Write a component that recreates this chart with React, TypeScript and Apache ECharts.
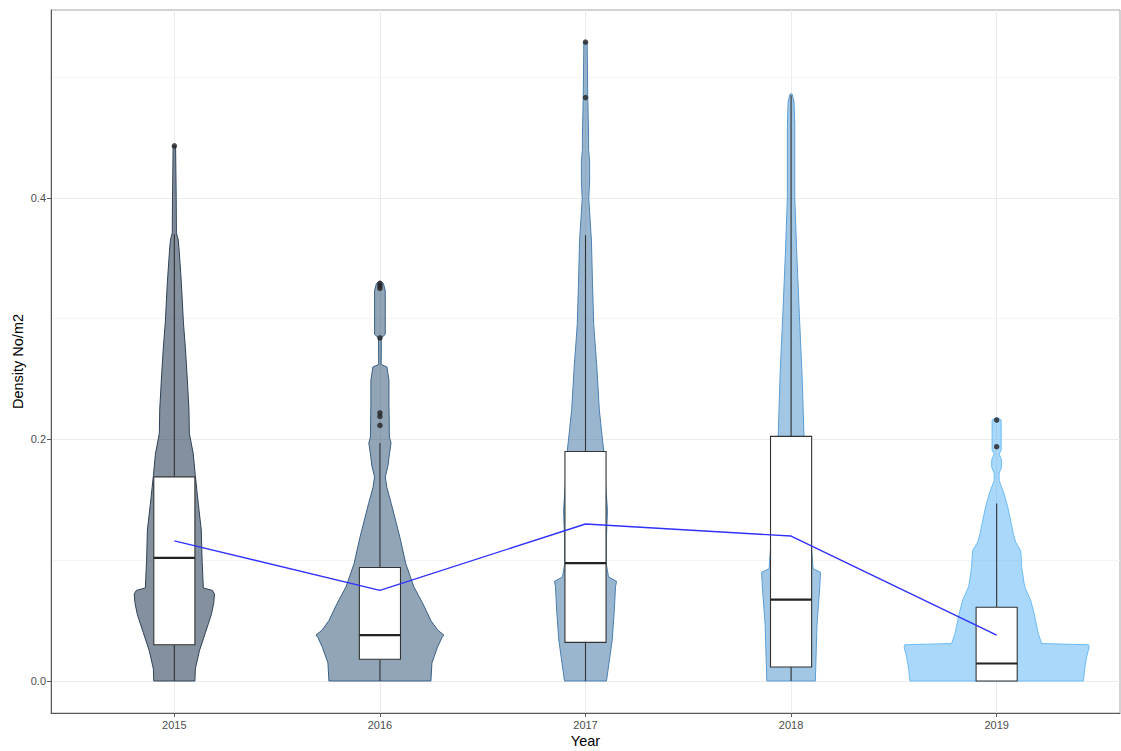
import React, { useEffect, useRef } from "react";
import * as echarts from "echarts";

// ---- data ----
const years = ["2015", "2016", "2017", "2018", "2019"];
const xPositions = [1, 2, 3, 4, 5];

// violin profiles: [value, half-width in x-axis units]
const violin2015 = [
  [0, 0.1], [0.01, 0.102], [0.025, 0.122], [0.04, 0.151], [0.055, 0.18], [0.065, 0.192],
  [0.072, 0.195], [0.075, 0.185], [0.077, 0.141], [0.1, 0.135], [0.125, 0.131], [0.146, 0.117],
  [0.17, 0.102], [0.188, 0.092], [0.205, 0.073], [0.225, 0.071], [0.25, 0.063], [0.275, 0.054],
  [0.297, 0.044], [0.33, 0.034], [0.355, 0.024], [0.365, 0.019], [0.371, 0.01], [0.4, 0.009],
  [0.443, 0.006],
];
const violin2016 = [
  [0, 0.248], [0.015, 0.253], [0.028, 0.28], [0.036, 0.302], [0.038, 0.311], [0.042, 0.282],
  [0.05, 0.248], [0.064, 0.209], [0.078, 0.165], [0.097, 0.126], [0.119, 0.097], [0.135, 0.073],
  [0.147, 0.055], [0.16, 0.034], [0.169, 0.026], [0.178, 0.039], [0.185, 0.044], [0.197, 0.054],
  [0.202, 0.046], [0.23, 0.044], [0.249, 0.044], [0.26, 0.034], [0.262, 0.006], [0.284, 0.007],
  [0.287, 0.026], [0.323, 0.026], [0.329, 0.017], [0.331, 0.004],
];
const violin2017 = [
  [0, 0.102], [0.034, 0.13], [0.058, 0.14], [0.078, 0.146], [0.0825, 0.151], [0.086, 0.112],
  [0.096, 0.102], [0.12, 0.102], [0.141, 0.107], [0.165, 0.097], [0.19, 0.089], [0.207, 0.078],
  [0.225, 0.067], [0.26, 0.055], [0.295, 0.04], [0.329, 0.034], [0.364, 0.029], [0.399, 0.016],
  [0.415, 0.02], [0.43, 0.02], [0.44, 0.015], [0.451, 0.015], [0.483, 0.011], [0.529, 0.008],
];
const violin2018 = [
  [0, 0.118], [0.046, 0.126], [0.079, 0.14], [0.09, 0.143], [0.093, 0.107], [0.15, 0.083],
  [0.2025, 0.063], [0.207, 0.062], [0.255, 0.053], [0.304, 0.04], [0.352, 0.028], [0.4, 0.018],
  [0.46, 0.018], [0.48, 0.014], [0.486, 0.005],
];
const violin2019 = [
  [0, 0.422], [0.01, 0.428], [0.02, 0.438], [0.028, 0.45], [0.03, 0.447], [0.031, 0.219],
  [0.039, 0.203], [0.056, 0.182], [0.067, 0.165], [0.078, 0.136], [0.094, 0.122], [0.108, 0.117],
  [0.115, 0.092], [0.122, 0.081], [0.144, 0.054], [0.155, 0.036], [0.166, 0.012], [0.172, 0.012],
  [0.177, 0.024], [0.183, 0.024], [0.188, 0.012], [0.191, 0.022], [0.216, 0.022], [0.218, 0.004],
];
const violins = [violin2015, violin2016, violin2017, violin2018, violin2019];

// box stats: [lower whisker, Q1, median, Q3, upper whisker]
const boxStats = [
  [0, 0.03, 0.102, 0.169, 0.37],
  [0, 0.018, 0.038, 0.094, 0.197],
  [0, 0.032, 0.0975, 0.19, 0.369],
  [0, 0.0116, 0.0674, 0.2025, 0.485],
  [0, 0, 0.0145, 0.061, 0.147],
];

const outliers2015 = [0.443];
const outliers2016 = [0.329, 0.327, 0.325, 0.284, 0.222, 0.219, 0.2116];
const outliers2017 = [0.529, 0.483];
const outliers2018: number[] = [];
const outliers2019 = [0.216, 0.194];
const outliers = [outliers2015, outliers2016, outliers2017, outliers2018, outliers2019];

const yearMeans = [0.116, 0.075, 0.13, 0.12, 0.038];

const yTickValues = [0, 0.2, 0.4];
const yMinorValues = [0.1, 0.3, 0.5];

const fillColors = [
  "rgba(19,43,67,0.52)",
  "rgba(36,76,112,0.5)",
  "rgba(52,110,157,0.5)",
  "rgba(69,143,202,0.5)",
  "rgba(86,177,247,0.5)",
];
const strokeColors = ["#2e4258", "#3a6085", "#4a80b3", "#5a9dd6", "#6dbcf5"];

const BOX_HALF = 0.1;
const FONT = "Liberation Sans, Arial, sans-serif";

export default function App() {
  const ref = useRef<HTMLDivElement>(null);

  useEffect(() => {
    document.body.style.margin = "0";
    const chart = echarts.init(ref.current!, null, { renderer: "svg" });

    const violinData = xPositions.map((x) => [x, 0]);
    const boxData = xPositions.map((x, i) => [x, ...boxStats[i]]);
    const outlierData: number[][] = [];
    outliers.forEach((arr, i) => arr.forEach((v) => outlierData.push([xPositions[i], v])));
    const meanData = xPositions.map((x, i) => [x, yearMeans[i]]);

    const gridLines = [
      ...xPositions.map((x) => ({ xAxis: x, lineStyle: { color: "#ebebeb", width: 1, type: "solid" } })),
      ...yTickValues.map((v) => ({ yAxis: v, lineStyle: { color: "#ebebeb", width: 1, type: "solid" } })),
      ...yMinorValues.map((v) => ({ yAxis: v, lineStyle: { color: "#f4f4f4", width: 1, type: "solid" } })),
    ];

    const option: any = {
      animation: false,
      textStyle: { fontFamily: FONT },
      grid: {
        left: 51,
        right: 1,
        top: 10,
        bottom: 38,
        containLabel: false,
        outerBoundsMode: "none",
        show: true,
        borderColor: "#a6a6a6",
        borderWidth: 1,
      },
      xAxis: {
        type: "value",
        min: 0.4,
        max: 5.6,
        name: "Year",
        nameLocation: "middle",
        nameGap: 20,
        nameMoveOverlap: false,
        nameTextStyle: { color: "#000", fontSize: 14.5, fontFamily: FONT },
        axisLine: { show: true, onZero: false, lineStyle: { color: "#5a5a5a", width: 1 } },
        axisTick: { show: true, length: 4, customValues: xPositions, lineStyle: { color: "#5a5a5a" } },
        axisLabel: {
          customValues: xPositions,
          formatter: (v: number) => years[Math.round(v) - 1] ?? "",
          color: "#4d4d4d",
          fontSize: 11,
          margin: 6,
        },
        splitLine: { show: false },
      },
      yAxis: {
        type: "value",
        min: -0.0265,
        max: 0.5555,
        name: "Density No/m2",
        nameLocation: "middle",
        nameGap: 26,
        nameMoveOverlap: false,
        nameTextStyle: { color: "#000", fontSize: 14.5, fontFamily: FONT },
        axisLine: { show: true, onZero: false, lineStyle: { color: "#5a5a5a", width: 1 } },
        axisTick: { show: true, length: 4, customValues: yTickValues, lineStyle: { color: "#5a5a5a" } },
        axisLabel: {
          customValues: yTickValues,
          formatter: (v: number) => v.toFixed(1),
          color: "#4d4d4d",
          fontSize: 11,
          margin: 5,
        },
        splitLine: { show: false },
      },
      series: [
        {
          type: "line",
          name: "grid",
          data: meanData,
          symbol: "none",
          lineStyle: { opacity: 0 },
          silent: true,
          z: 0,
          markLine: {
            silent: true,
            symbol: "none",
            z: 0,
            label: { show: false },
            animation: false,
            data: gridLines,
          },
        },
        {
          type: "custom",
          name: "violin",
          data: violinData,
          encode: { x: 0, y: 1 },
          z: 2,
          renderItem: (params: any, api: any) => {
            const i = params.dataIndex;
            const x = xPositions[i];
            const prof = violins[i];
            const right = prof.map(([v, w]) => api.coord([x + w, v]));
            const left = prof.slice().reverse().map(([v, w]) => api.coord([x - w, v]));
            return {
              type: "polygon",
              shape: { points: [...right, ...left] },
              style: { fill: fillColors[i], stroke: strokeColors[i], lineWidth: 1 },
            };
          },
        },
        {
          type: "custom",
          name: "box",
          data: boxData,
          encode: { x: 0, y: [1, 2, 3, 4, 5] },
          z: 3,
          renderItem: (params: any, api: any) => {
            const x = api.value(0);
            const lw = api.value(1), q1 = api.value(2), med = api.value(3), q3 = api.value(4), uw = api.value(5);
            const pLw = api.coord([x, lw]);
            const pUw = api.coord([x, uw]);
            const pQ1 = api.coord([x, q1]);
            const pQ3 = api.coord([x, q3]);
            const tl = api.coord([x - BOX_HALF, q3]);
            const br = api.coord([x + BOX_HALF, q1]);
            const mL = api.coord([x - BOX_HALF, med]);
            const mR = api.coord([x + BOX_HALF, med]);
            const lineStyle = { stroke: "#333333", lineWidth: 1.1 };
            return {
              type: "group",
              children: [
                { type: "line", shape: { x1: pUw[0], y1: pUw[1], x2: pQ3[0], y2: pQ3[1] }, style: lineStyle },
                { type: "line", shape: { x1: pLw[0], y1: pLw[1], x2: pQ1[0], y2: pQ1[1] }, style: lineStyle },
                {
                  type: "rect",
                  shape: { x: tl[0], y: tl[1], width: br[0] - tl[0], height: br[1] - tl[1] },
                  style: { fill: "#ffffff", stroke: "#333333", lineWidth: 1.1 },
                },
                { type: "line", shape: { x1: mL[0], y1: mL[1], x2: mR[0], y2: mR[1] }, style: { stroke: "#222222", lineWidth: 2.2 } },
              ],
            };
          },
        },
        {
          type: "scatter",
          name: "outliers",
          data: outlierData,
          symbol: "circle",
          symbolSize: 5.5,
          itemStyle: { color: "#222222" },
          z: 4,
        },
        {
          type: "line",
          name: "mean",
          data: meanData,
          symbol: "none",
          lineStyle: { color: "#3030ff", width: 1.4 },
          z: 5,
        },
      ],
    };

    chart.setOption(option);
    return () => chart.dispose();
  }, []);

  return <div ref={ref} style={{ width: 1121, height: 751 }} />;
}
